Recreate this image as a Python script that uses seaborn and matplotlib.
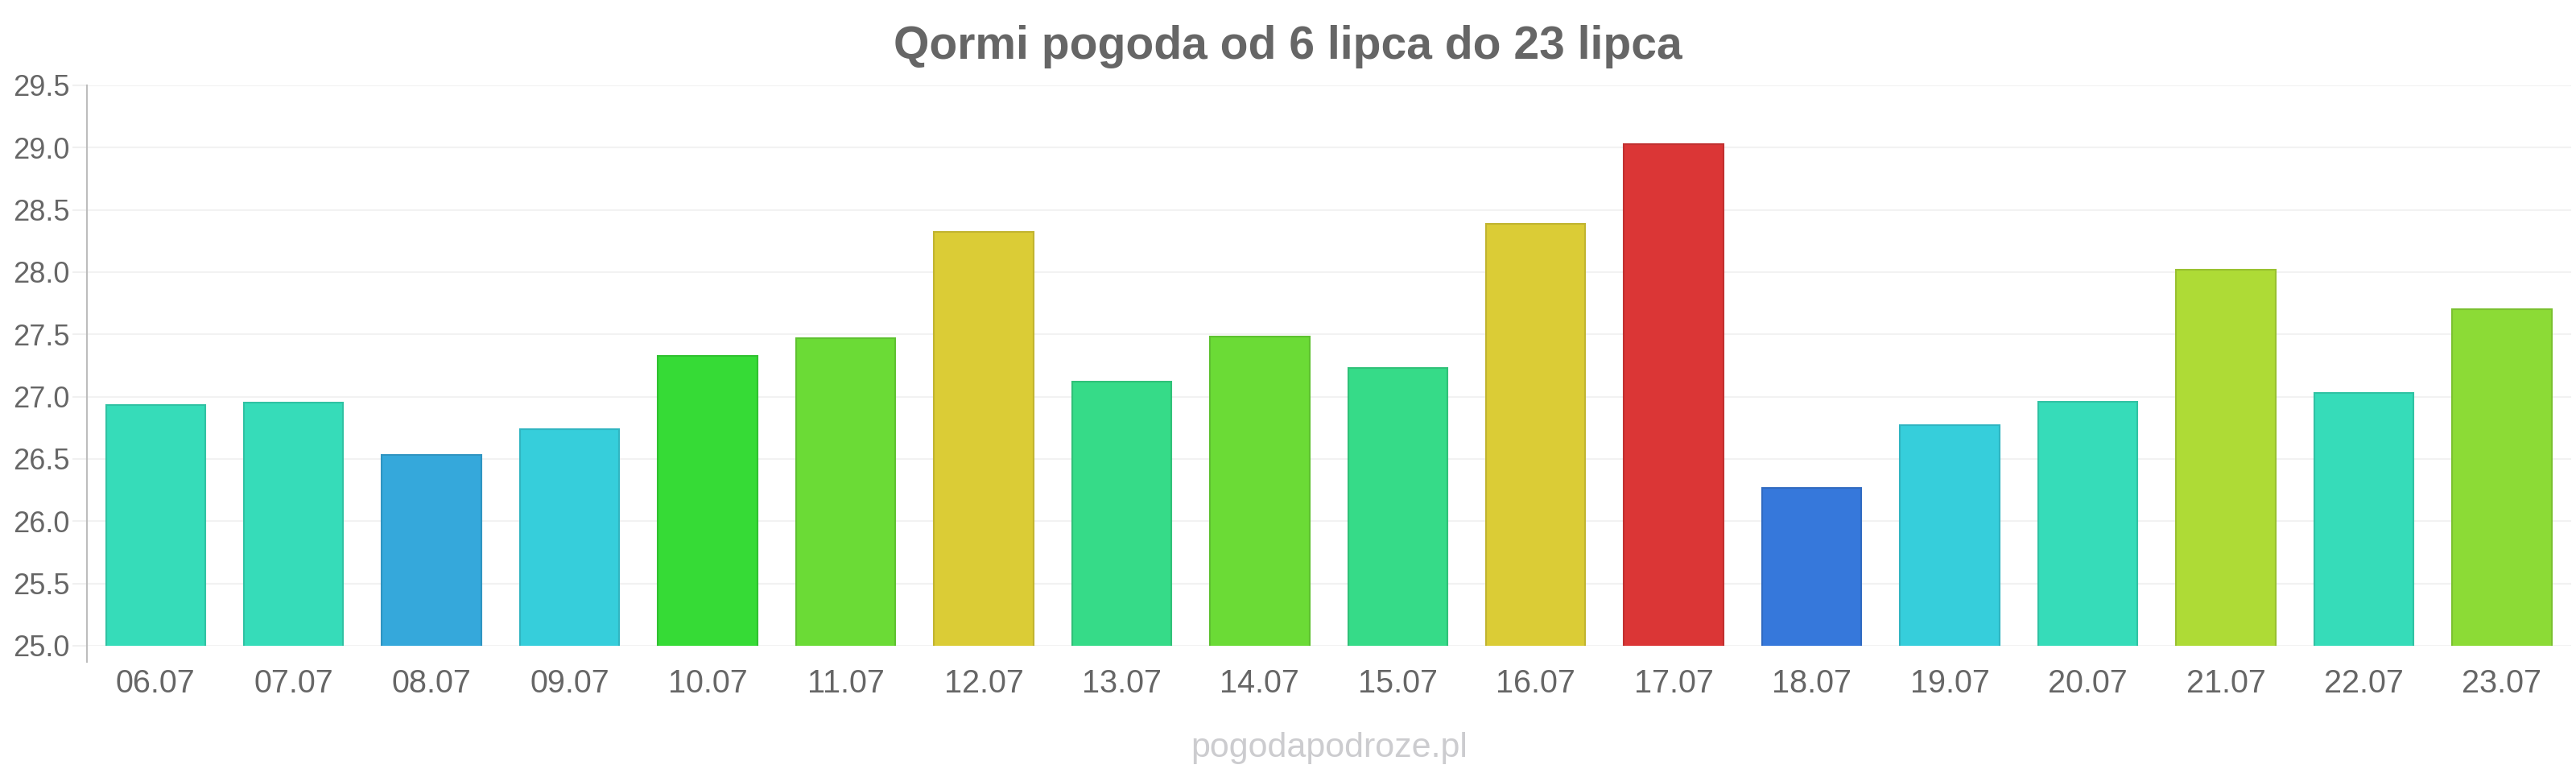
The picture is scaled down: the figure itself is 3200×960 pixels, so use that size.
import numpy as np
import pandas as pd
import seaborn as sns
import matplotlib.pyplot as plt
from matplotlib.colors import to_rgb

# data
days = ["06.07", "07.07", "08.07", "09.07", "10.07", "11.07", "12.07", "13.07", "14.07",
        "15.07", "16.07", "17.07", "18.07", "19.07", "20.07", "21.07", "22.07", "23.07"]
temps = [26.93, 26.95, 26.53, 26.74, 27.33, 27.47, 28.32, 27.12, 27.48,
         27.23, 28.39, 29.03, 26.27, 26.77, 26.96, 28.02, 27.03, 27.70]
bar_colors = ["#36dcb9", "#36dcb9", "#35a8db", "#36cedb", "#36db36", "#6bdb36", "#dbcc36", "#36db88", "#6bdb36",
              "#36db88", "#dbcc36", "#db3636", "#3678db", "#36cedb", "#36dcb9", "#aedb36", "#36dcb9", "#8cdb36"]
yticks = [25.0, 25.5, 26.0, 26.5, 27.0, 27.5, 28.0, 28.5, 29.0, 29.5]

title = "Qormi pogoda od 6 lipca do 23 lipca"
watermark = "pogodapodroze.pl"

sns.set_style("white")
plt.rcParams['font.family'] = ['Liberation Sans', 'DejaVu Sans']

df = pd.DataFrame({"day": days, "temp": temps})

fig = plt.figure(figsize=(32, 9.6), dpi=100)
ax = fig.add_axes([0.0336, 0.1646, 0.9644, 0.725])

sns.barplot(data=df, x="day", y="temp", hue="day", palette=bar_colors,
            legend=False, width=0.72, saturation=1, ax=ax, zorder=2)

# slightly darker border on every bar
for patch, c in zip(ax.patches, bar_colors):
    r, g, b = to_rgb(c)
    patch.set_edgecolor((r * 0.88, g * 0.88, b * 0.88))
    patch.set_linewidth(1.5)

ax.set_ylim(25, 29.5)
ax.set_xlim(-0.5, len(days) - 0.5)
ax.set_yticks(yticks)
ax.set_yticklabels([f"{v:.1f}" for v in yticks])
ax.set_xlabel("")
ax.set_ylabel("")

ax.set_axisbelow(True)
ax.yaxis.grid(True, color="#f2f2f2", linewidth=1.5)
ax.xaxis.grid(False)

for side in ["top", "right", "bottom"]:
    ax.spines[side].set_visible(False)
ax.spines["left"].set_color("#bdbdbd")
ax.spines["left"].set_linewidth(1.5)
ax.spines["left"].set_bounds(24.87, 29.5)

ax.tick_params(axis="y", length=13, width=1.5, color="#f0f0f0", pad=2,
               labelsize=26, labelcolor="#666666", left=True)
ax.tick_params(axis="x", length=0, pad=20, labelsize=28.5, labelcolor="#666666")

fig.text(0.5, 0.924, title, ha="center", va="baseline",
         fontsize=41, fontweight="bold", color="#666666")
fig.text(0.516, 0.0208, watermark, ha="center", va="baseline",
         fontsize=31, color="#cccccf")

fig.savefig("out.png", dpi=100)
